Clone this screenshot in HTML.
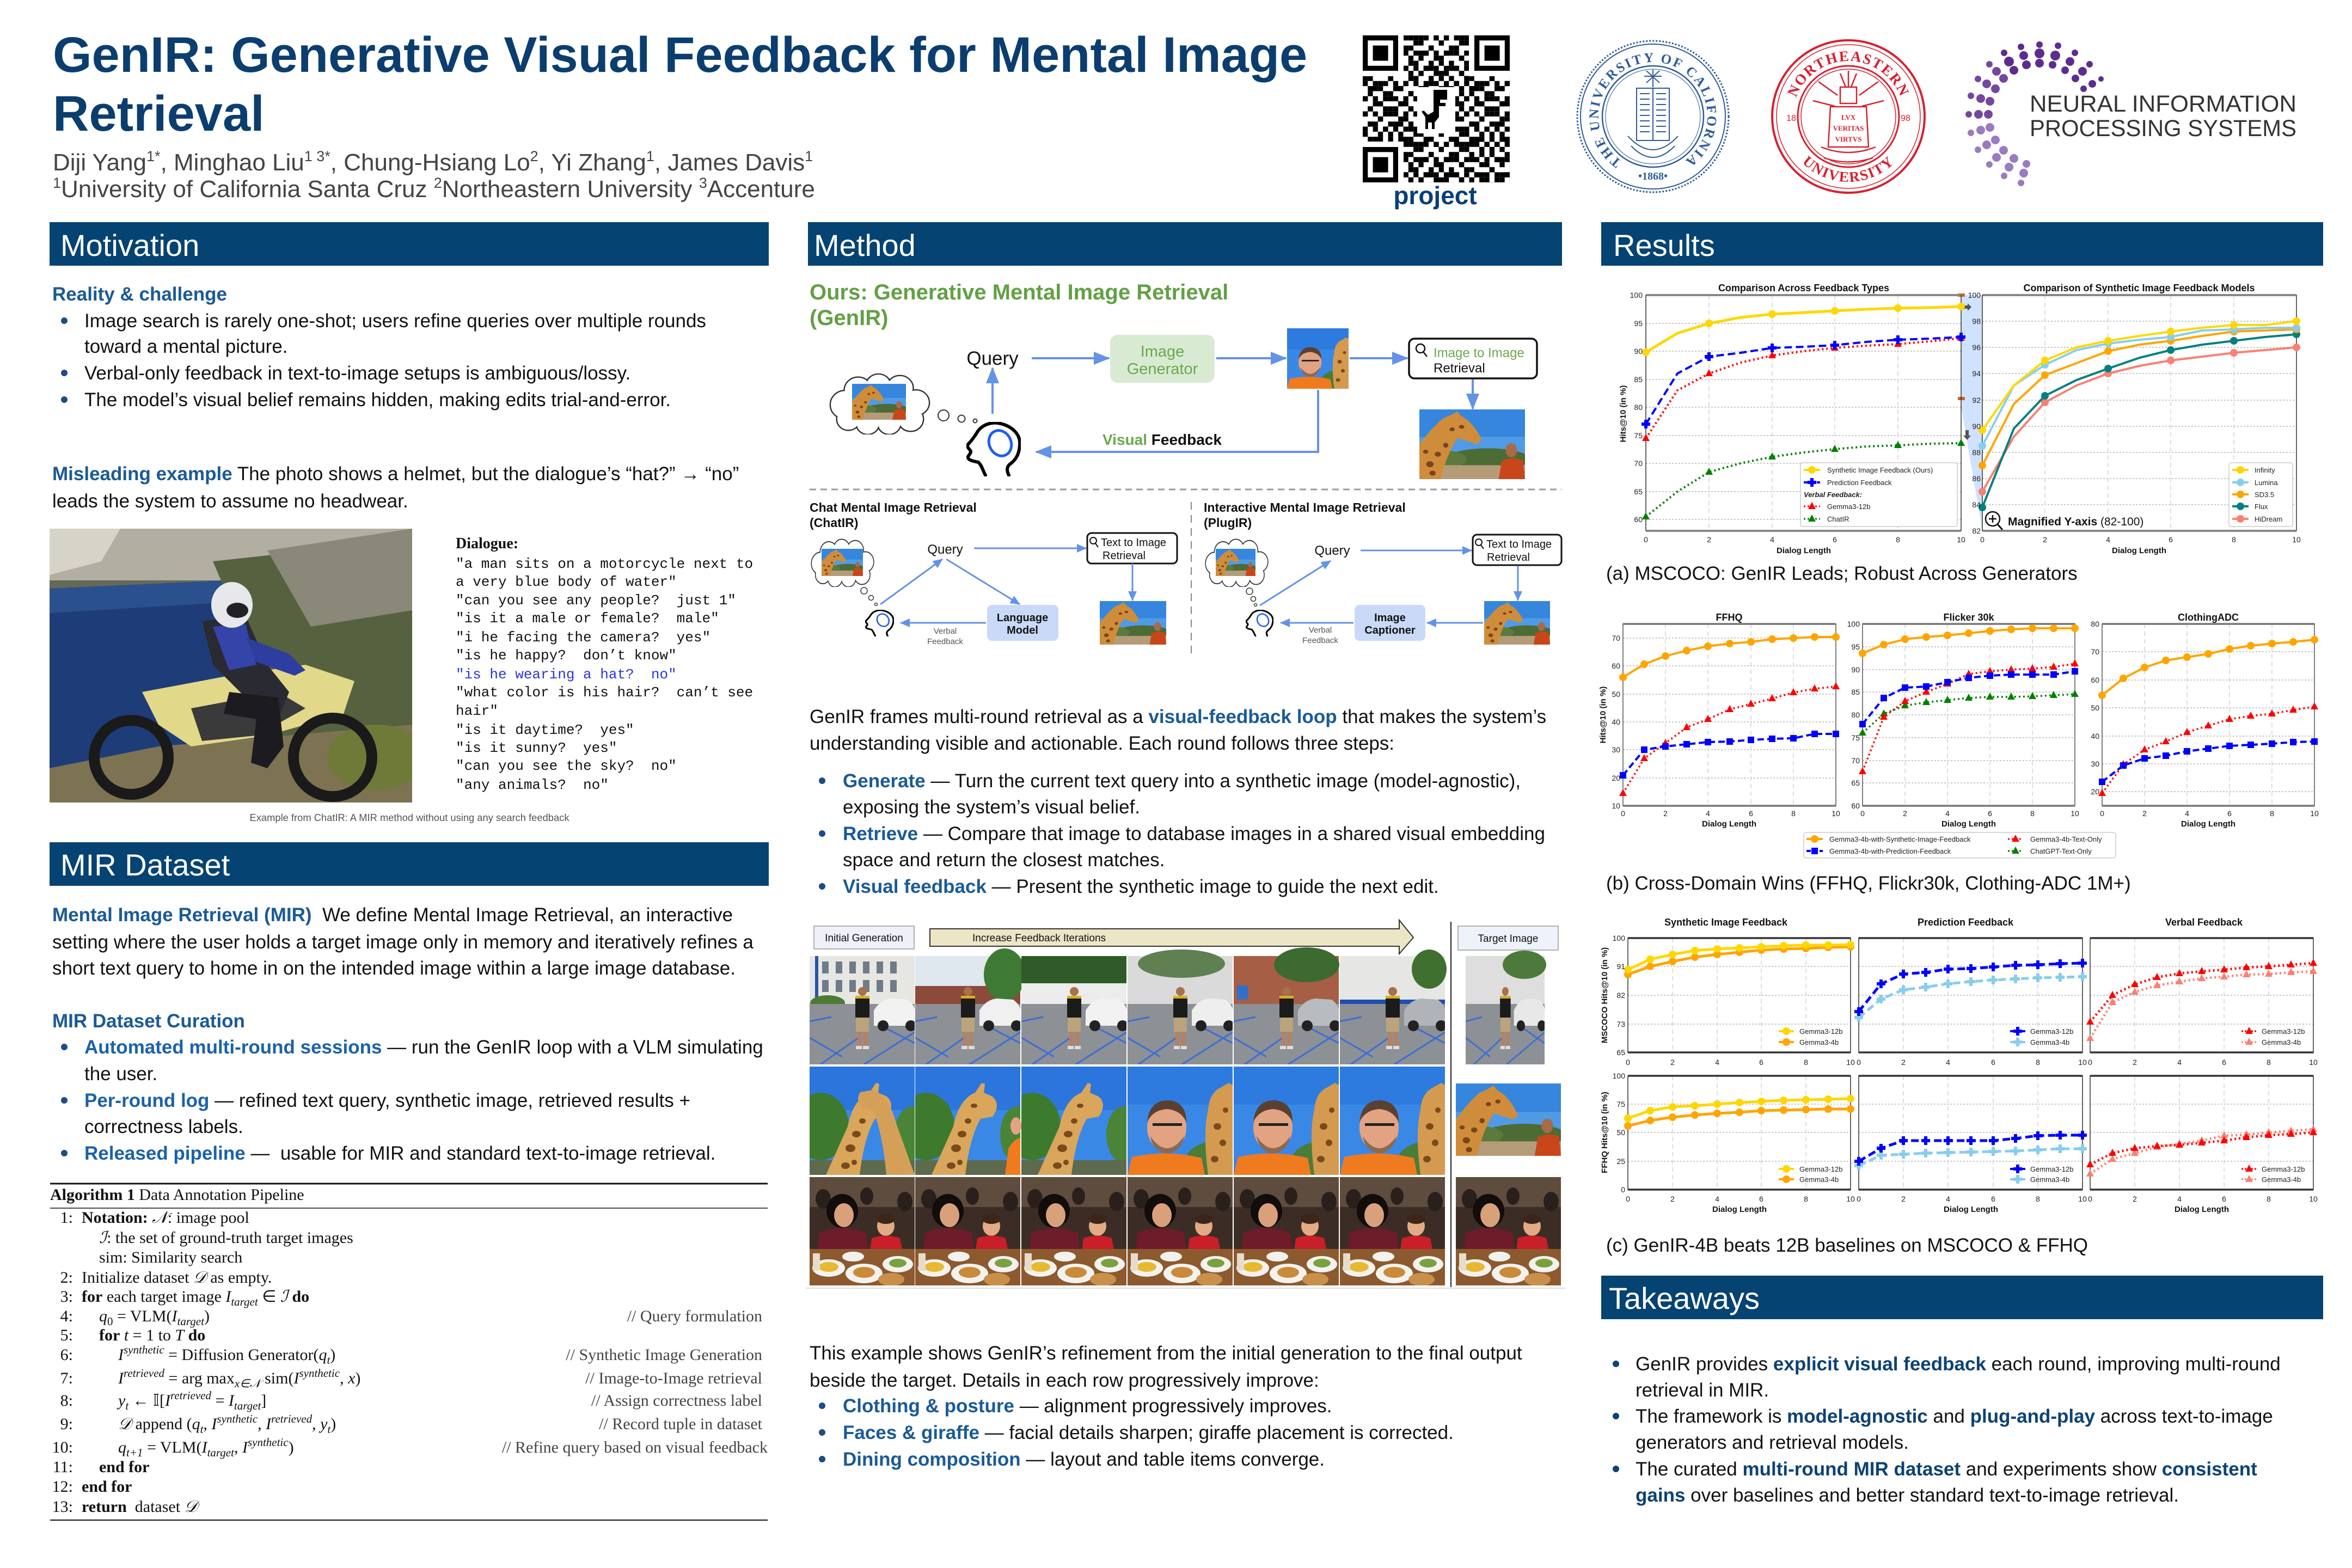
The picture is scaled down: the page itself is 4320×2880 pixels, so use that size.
<!DOCTYPE html>
<html><head><meta charset="utf-8"><title>GenIR Poster</title>
<style>
html,body{margin:0;padding:0;background:#fff;}
body{width:4320px;height:2880px;overflow:hidden;}
svg{display:block;}
.ln{fill:none;stroke-linejoin:round;stroke-linecap:butt;}
.gh{stroke:#b5b5b5;stroke-width:1.5;stroke-dasharray:3 3;fill:none;}
.gv{stroke:#d3d3d3;stroke-width:1.5;stroke-dasharray:8 6;fill:none;}
.tk{font-size:14px;fill:#222;}
.ct{font-size:18px;font-weight:bold;fill:#111;}
.xl{font-size:15px;font-weight:bold;fill:#111;}
.lg{font-size:13px;fill:#222;}
</style></head>
<body>
<svg xmlns="http://www.w3.org/2000/svg" width="4320" height="2880" viewBox="0 0 4320 2880" font-family="'Liberation Sans', Arial, sans-serif">
<defs>
 <marker id="ahB" markerUnits="userSpaceOnUse" markerWidth="30" markerHeight="24" refX="28" refY="12" orient="auto" viewBox="0 0 30 24"><path d="M0,0 L30,12 L0,24 Z" fill="#6393e6"/></marker>
 <marker id="ahS" markerUnits="userSpaceOnUse" markerWidth="18" markerHeight="16" refX="17" refY="8" orient="auto" viewBox="0 0 18 16"><path d="M0,0 L18,8 L0,16 Z" fill="#6393e6"/></marker>
 <marker id="mGold" markerUnits="userSpaceOnUse" markerWidth="16" markerHeight="16" refX="8" refY="8" viewBox="0 0 16 16"><circle cx="8" cy="8" r="7" fill="#ffd700"/></marker>
 <marker id="mOr" markerUnits="userSpaceOnUse" markerWidth="16" markerHeight="16" refX="8" refY="8" viewBox="0 0 16 16"><circle cx="8" cy="8" r="7" fill="#ffa500"/></marker>
 <marker id="mSky" markerUnits="userSpaceOnUse" markerWidth="16" markerHeight="16" refX="8" refY="8" viewBox="0 0 16 16"><circle cx="8" cy="8" r="7" fill="#87ceeb"/></marker>
 <marker id="mTeal" markerUnits="userSpaceOnUse" markerWidth="16" markerHeight="16" refX="8" refY="8" viewBox="0 0 16 16"><circle cx="8" cy="8" r="7" fill="#008080"/></marker>
 <marker id="mSal" markerUnits="userSpaceOnUse" markerWidth="16" markerHeight="16" refX="8" refY="8" viewBox="0 0 16 16"><circle cx="8" cy="8" r="7" fill="#fa8072"/></marker>
 <marker id="mPlusB" markerUnits="userSpaceOnUse" markerWidth="16" markerHeight="16" refX="8" refY="8" viewBox="0 0 16 16"><path d="M5,0 H11 V5 H16 V11 H11 V16 H5 V11 H0 V5 H5 Z" fill="#0000ff"/></marker>
 <marker id="mPlusS" markerUnits="userSpaceOnUse" markerWidth="16" markerHeight="16" refX="8" refY="8" viewBox="0 0 16 16"><path d="M5,0 H11 V5 H16 V11 H11 V16 H5 V11 H0 V5 H5 Z" fill="#87ceeb"/></marker>
 <marker id="mSqB" markerUnits="userSpaceOnUse" markerWidth="14" markerHeight="14" refX="7" refY="7" viewBox="0 0 14 14"><rect x="1" y="1" width="12" height="12" fill="#0000ff"/></marker>
 <marker id="mTriR" markerUnits="userSpaceOnUse" markerWidth="14" markerHeight="14" refX="7" refY="8" viewBox="0 0 14 14"><path d="M7,0 L14,13 L0,13 Z" fill="#ff0000"/></marker>
 <marker id="mTriG" markerUnits="userSpaceOnUse" markerWidth="14" markerHeight="14" refX="7" refY="8" viewBox="0 0 14 14"><path d="M7,0 L14,13 L0,13 Z" fill="#008000"/></marker>
 <marker id="mTriS" markerUnits="userSpaceOnUse" markerWidth="14" markerHeight="14" refX="7" refY="8" viewBox="0 0 14 14"><path d="M7,0 L14,13 L0,13 Z" fill="#fa8072"/></marker>

 <pattern id="qpA" patternUnits="userSpaceOnUse" x="0" y="0" width="37.24" height="27.93"><rect x="0" y="0" width="9.31" height="9.31"/><rect x="18.62" y="0" width="9.31" height="9.31"/><rect x="27.93" y="9.31" width="9.31" height="9.31"/><rect x="9.31" y="18.62" width="9.31" height="9.31"/></pattern>
 <pattern id="qpB" patternUnits="userSpaceOnUse" x="0" y="0" width="46.55" height="65.17"><rect x="9.31" y="0" width="9.31" height="9.31"/><rect x="37.24" y="0" width="9.31" height="9.31"/><rect x="0" y="9.31" width="9.31" height="9.31"/><rect x="27.93" y="18.62" width="9.31" height="9.31"/><rect x="9.31" y="27.93" width="18.62" height="9.31"/><rect x="37.24" y="37.24" width="9.31" height="9.31"/><rect x="0" y="46.55" width="9.31" height="9.31"/><rect x="18.62" y="55.86" width="18.62" height="9.31"/></pattern>

 <symbol id="head" viewBox="0 0 100 100" preserveAspectRatio="none">
  <path d="M35,98 C30,88 28,80 22,74 C12,72 2,70 3,64 C6,58 10,56 7,52 C3,48 0,44 4,40 C10,34 14,28 18,22 C26,6 44,0 58,2 C82,6 100,22 98,42 C97,58 92,68 82,76 C76,80 72,86 78,98" fill="none" stroke="#000" stroke-width="6" stroke-linecap="round" stroke-linejoin="round"/>
  <ellipse cx="62" cy="39" rx="20" ry="24" transform="rotate(-25 62 39)" fill="none" stroke="#1f5ff0" stroke-width="5"/>
 </symbol>
 <symbol id="cloud" viewBox="0 0 200 120" preserveAspectRatio="none">
  <g fill="#fff" stroke="#333" stroke-width="2.5"><circle cx="38" cy="62" r="28"/><circle cx="62" cy="34" r="26"/><circle cx="100" cy="26" r="24"/><circle cx="140" cy="30" r="25"/><circle cx="170" cy="58" r="25"/><circle cx="160" cy="90" r="24"/><circle cx="120" cy="98" r="22"/><circle cx="80" cy="98" r="22"/><circle cx="44" cy="90" r="22"/></g>
  <g fill="#fff"><circle cx="38" cy="62" r="26.5"/><circle cx="62" cy="34" r="24.5"/><circle cx="100" cy="26" r="22.5"/><circle cx="140" cy="30" r="23.5"/><circle cx="170" cy="58" r="23.5"/><circle cx="160" cy="90" r="22.5"/><circle cx="120" cy="98" r="20.5"/><circle cx="80" cy="98" r="20.5"/><circle cx="44" cy="90" r="20.5"/><rect x="50" y="40" width="110" height="60"/></g>
 </symbol>
 <symbol id="gA" viewBox="0 0 200 140" preserveAspectRatio="none">
  <rect width="200" height="140" fill="#4f9be6"/>
  <rect width="200" height="55" fill="#3586dc"/>
  <ellipse cx="130" cy="100" rx="80" ry="22" fill="#4d6b34"/>
  <ellipse cx="40" cy="100" rx="50" ry="18" fill="#5c7a3c"/>
  <rect y="112" width="200" height="28" fill="#b59c78"/>
  <path d="M0,140 L0,70 Q25,35 45,18 L62,10 L72,4 L78,12 L92,22 Q110,40 118,62 L108,70 Q88,62 72,58 Q52,90 40,140 Z" fill="#cf8d3c"/>
  <g fill="#7a4518"><ellipse cx="20" cy="110" rx="7" ry="6"/><ellipse cx="35" cy="90" rx="6" ry="5"/><ellipse cx="50" cy="72" rx="5" ry="5"/><ellipse cx="12" cy="85" rx="5" ry="4"/><ellipse cx="62" cy="40" rx="5" ry="4"/><ellipse cx="80" cy="35" rx="5" ry="4"/><ellipse cx="25" cy="128" rx="6" ry="5"/></g>
  <ellipse cx="174" cy="82" rx="11" ry="14" fill="#a86a48"/>
  <path d="M150,140 L156,104 Q175,94 196,102 L200,140 Z" fill="#c8461a"/>
 </symbol>
 <symbol id="gB" viewBox="0 0 193 199" preserveAspectRatio="none">
  <rect width="193" height="199" fill="#3a88e6"/>
  <rect width="193" height="70" fill="#2d7bde"/>
  <ellipse cx="165" cy="175" rx="60" ry="38" fill="#4a7c3a"/>
  <path d="M193,199 L148,199 Q138,120 148,80 Q150,48 172,38 L186,30 L193,34 Z" fill="#d49a50"/>
  <g fill="#7b4a1c"><ellipse cx="165" cy="110" rx="7" ry="6"/><ellipse cx="175" cy="140" rx="6" ry="6"/><ellipse cx="160" cy="170" rx="7" ry="6"/><ellipse cx="180" cy="80" rx="5" ry="5"/></g>
  <ellipse cx="72" cy="112" rx="36" ry="44" fill="#e2a382"/>
  <path d="M36,102 Q40,62 74,62 Q108,64 108,102 Q98,80 72,78 Q46,80 36,102Z" fill="#5a4030"/>
  <rect x="46" y="104" width="54" height="5" fill="#222"/>
  <path d="M42,128 Q72,172 104,128 Q100,155 72,160 Q46,155 42,128Z" fill="#8a6a50"/>
  <path d="M0,199 L8,166 Q72,152 136,168 L142,199Z" fill="#f07a1e"/>
 </symbol>
 <symbol id="g2a" viewBox="0 0 193 199" preserveAspectRatio="none">
  <rect width="193" height="199" fill="#3a88e6"/>
  <rect width="193" height="80" fill="#2b75dc"/>
  <ellipse cx="20" cy="110" rx="52" ry="62" fill="#3d7a2e"/>
  <ellipse cx="188" cy="125" rx="32" ry="52" fill="#4a8436"/>
  <rect y="172" width="193" height="27" fill="#5d6a4c"/>
  <path d="M30,199 L70,110 Q80,60 110,48 L122,30 L128,32 L126,48 L142,55 Q158,70 142,92 L120,96 Q100,130 92,199 Z" fill="#d9a65c"/>
  <g fill="#7b4a1c"><ellipse cx="75" cy="150" rx="9" ry="7"/><ellipse cx="86" cy="124" rx="8" ry="6"/><ellipse cx="97" cy="100" rx="6" ry="5"/><ellipse cx="66" cy="182" rx="8" ry="6"/><ellipse cx="108" cy="72" rx="6" ry="4"/><ellipse cx="82" cy="176" rx="5" ry="5"/></g>
 </symbol>
 <symbol id="din" viewBox="0 0 193 199" preserveAspectRatio="none">
  <rect width="193" height="199" fill="#3b2d25"/>
  <rect width="193" height="55" fill="#5e4c3e"/>
  <g fill="#2a201b"><ellipse cx="25" cy="40" rx="14" ry="18"/><ellipse cx="105" cy="35" rx="12" ry="16"/><ellipse cx="175" cy="45" rx="14" ry="18"/></g>
  <ellipse cx="60" cy="62" rx="29" ry="31" fill="#120c0a"/>
  <ellipse cx="63" cy="70" rx="18" ry="22" fill="#d9a07c"/>
  <path d="M18,102 Q60,86 104,102 L108,142 L14,142Z" fill="#6e1b2a"/>
  <ellipse cx="140" cy="90" rx="16" ry="18" fill="#e2ab86"/>
  <ellipse cx="140" cy="77" rx="17" ry="9" fill="#3b2619"/>
  <path d="M114,112 Q140,103 166,112 L172,142 L110,142Z" fill="#c81f28"/>
  <rect y="132" width="193" height="67" fill="#8c5a2e"/>
  <g fill="#f4f2ee"><ellipse cx="35" cy="167" rx="30" ry="16"/><ellipse cx="100" cy="177" rx="34" ry="18"/><ellipse cx="162" cy="160" rx="28" ry="15"/><ellipse cx="80" cy="146" rx="20" ry="9"/></g>
  <ellipse cx="35" cy="165" rx="18" ry="9" fill="#e8b830"/>
  <ellipse cx="100" cy="175" rx="20" ry="10" fill="#c98a3a"/>
  <ellipse cx="162" cy="158" rx="16" ry="8" fill="#7aa040"/>
  <ellipse cx="150" cy="188" rx="24" ry="12" fill="#c8904a"/>
  <rect x="6" y="140" width="13" height="32" fill="#e6dccb"/>
 </symbol>
 <symbol id="lot" viewBox="0 0 193 199" preserveAspectRatio="none">
  <rect y="88" width="193" height="111" fill="#8d9095"/>
  <path d="M0,150 L60,185 M20,199 L90,150 M120,122 L193,160 M100,199 L193,140 M0,120 L40,112" stroke="#3b6fd4" stroke-width="3" fill="none"/>
  <path d="M118,100 Q130,80 150,78 L180,80 Q193,90 193,100 L193,128 L118,128 Z" fill="currentColor"/>
  <circle cx="135" cy="128" r="10" fill="#222"/><circle cx="186" cy="128" r="10" fill="#222"/>
  <circle cx="97" cy="65" r="8" fill="#a8704c"/>
  <rect x="84" y="73" width="26" height="42" rx="4" fill="#1b1b1b"/>
  <rect x="84" y="73" width="26" height="5" fill="#d8b020"/>
  <rect x="85" y="113" width="24" height="26" fill="#b9a47c"/>
  <rect x="88" y="139" width="7" height="28" fill="#b88060"/><rect x="99" y="139" width="7" height="28" fill="#b88060"/>
  <rect x="85" y="165" width="11" height="6" fill="#ddd"/><rect x="98" y="165" width="11" height="6" fill="#ddd"/>
 </symbol>
 <symbol id="moto" viewBox="0 0 666 503" preserveAspectRatio="none">
  <rect width="666" height="503" fill="#656a58"/>
  <rect width="666" height="95" fill="#b2afa2"/>
  <polygon points="0,0 130,0 95,60 0,85" fill="#d6d3c8"/>
  <polygon points="0,110 330,95 360,200 300,470 0,470" fill="#1e3d78"/>
  <polygon points="0,110 330,95 330,135 0,155" fill="#2b508e"/>
  <polygon points="300,60 666,20 666,380 420,420 360,200" fill="#56613f"/>
  <polygon points="400,40 666,0 666,150 480,180" fill="#8a8878"/>
  <polygon points="0,440 200,400 666,360 666,503 0,503" fill="#7d7352"/>
  <ellipse cx="600" cy="420" rx="90" ry="60" fill="#6f7a38"/>
  <polygon points="170,300 330,270 470,250 560,280 540,340 400,380 260,400 200,360" fill="#e2d88a"/>
  <polygon points="260,330 420,300 470,330 380,380 280,390" fill="#3a3a3a"/>
  <circle cx="150" cy="420" r="68" fill="none" stroke="#1a1a1a" stroke-width="20"/>
  <circle cx="520" cy="420" r="72" fill="none" stroke="#1a1a1a" stroke-width="20"/>
  <polygon points="280,170 360,160 400,250 440,300 420,350 380,330 330,280 300,250" fill="#2a2a33"/>
  <polygon points="330,300 420,310 430,400 400,440 370,430 380,350 320,340" fill="#1c1c20"/>
  <polygon points="300,180 360,175 380,250 330,260" fill="#3444a8"/>
  <polygon points="360,200 440,230 470,260 450,270 380,245" fill="#2e3e9e"/>
  <ellipse cx="335" cy="140" rx="38" ry="42" fill="#e8e8ec"/>
  <ellipse cx="345" cy="150" rx="20" ry="14" fill="#222"/>
 </symbol>
 <path id="ucTop" d="M3036,314 A100,100 0 1,1 3036,114 A100,100 0 1,1 3036,314" fill="none"/>
 <path id="neTop" d="M3395,316 A102,102 0 1,1 3395,112 A102,102 0 1,1 3395,316" fill="none"/>
 <path id="neBot" d="M3275,214 A120,120 0 0,0 3515,214" fill="none"/>
</defs>

<rect width="4320" height="2880" fill="#fff"/>

<!-- ===== HEADER ===== -->
<text x="97" y="132" font-size="92" font-weight="bold" fill="#0b3e6f">GenIR: Generative Visual Feedback for Mental Image</text>
<text x="97" y="240" font-size="92" font-weight="bold" fill="#0b3e6f">Retrieval</text>
<text x="97" y="313" font-size="44" fill="#444">Diji Yang<tspan font-size="27" dy="-17">1*</tspan><tspan dy="17">, Minghao Liu</tspan><tspan font-size="27" dy="-17">1 3*</tspan><tspan dy="17">, Chung-Hsiang Lo</tspan><tspan font-size="27" dy="-17">2</tspan><tspan dy="17">, Yi Zhang</tspan><tspan font-size="27" dy="-17">1</tspan><tspan dy="17">, James Davis</tspan><tspan font-size="27" dy="-17">1</tspan></text>
<text x="97" y="362" font-size="44" fill="#444"><tspan font-size="27" dy="-17">1</tspan><tspan dy="17">University of California Santa Cruz&#160;</tspan><tspan font-size="27" dy="-17">2</tspan><tspan dy="17">Northeastern University </tspan><tspan font-size="27" dy="-17">3</tspan><tspan dy="17">Accenture</tspan></text>

<!-- QR -->
<g transform="translate(2503,65)">
 <rect x="0" y="0" width="270" height="270" fill="url(#qpA)"/>
 <rect x="0" y="0" width="270" height="270" fill="url(#qpB)"/>
 <rect x="0" y="0" width="75" height="75" fill="#fff"/><rect x="195" y="0" width="75" height="75" fill="#fff"/><rect x="0" y="195" width="75" height="75" fill="#fff"/>
 <rect x="0" y="0" width="65" height="65" fill="#000"/><rect x="9.3" y="9.3" width="46.5" height="46.5" fill="#fff"/><rect x="18.6" y="18.6" width="28" height="28" fill="#000"/>
 <rect x="205" y="0" width="65" height="65" fill="#000"/><rect x="214.3" y="9.3" width="46.5" height="46.5" fill="#fff"/><rect x="223.6" y="18.6" width="28" height="28" fill="#000"/>
 <rect x="0" y="205" width="65" height="65" fill="#000"/><rect x="9.3" y="214.3" width="46.5" height="46.5" fill="#fff"/><rect x="18.6" y="223.6" width="28" height="28" fill="#000"/>
 <rect x="100" y="95" width="70" height="85" fill="#fff"/>
 <path d="M130,100 L155,100 L155,118 L142,118 L142,124 L152,124 L152,130 L140,130 L140,150 L132,160 L132,172 L127,172 L127,160 L120,160 L120,172 L115,172 L115,150 L108,140 L112,138 L120,146 L130,140 Z" fill="#000"/>
</g>
<text x="2636" y="375" font-size="46" font-weight="bold" fill="#0b3e7a" text-anchor="middle">project</text>

<!-- UCSC seal -->
<g transform="translate(3036,214)" fill="none" stroke="#2e5c99">
 <circle r="139" stroke-width="3" stroke-dasharray="3 3"/>
 <circle r="133" stroke-width="2"/>
 <circle r="93" stroke-width="2.5"/>
 <circle r="87" stroke-width="1"/>
</g>
<text font-size="25" font-weight="bold" fill="#2e5c99" font-family="'Liberation Serif', serif" letter-spacing="3"><textPath href="#ucTop" startOffset="50%" text-anchor="middle">THE UNIVERSITY OF CALIFORNIA</textPath></text>
<text x="3036" y="330" text-anchor="middle" font-size="20" font-weight="bold" fill="#2e5c99" font-family="'Liberation Serif', serif">•1868•</text>
<g stroke="#2e5c99" stroke-width="2" fill="none">
 <path d="M3036,128 L3036,160 M3020,140 L3052,140 M3024,130 L3048,152 M3048,130 L3024,152"/>
 <rect x="3006" y="162" width="60" height="96"/>
 <path d="M3036,162 L3036,258 M3012,172 H3030 M3012,182 H3030 M3012,192 H3030 M3012,202 H3030 M3012,212 H3030 M3012,222 H3030 M3012,232 H3030 M3012,242 H3030 M3042,172 H3060 M3042,182 H3060 M3042,192 H3060 M3042,202 H3060 M3042,212 H3060 M3042,222 H3060 M3042,232 H3060 M3042,242 H3060"/>
 <path d="M2990,250 Q3036,300 3082,250 M2996,268 Q3036,310 3076,268"/>
</g>

<!-- Northeastern seal -->
<g transform="translate(3395,214)" fill="none" stroke="#d7202f">
 <circle r="140" stroke-width="4"/>
 <circle r="132" stroke-width="1.5"/>
 <circle r="93" stroke-width="3"/>
 <circle r="87" stroke-width="1.5"/>
</g>
<text font-size="27" font-weight="bold" fill="#d7202f" font-family="'Liberation Serif', serif" letter-spacing="2"><textPath href="#neTop" startOffset="50%" text-anchor="middle">NORTHEASTERN</textPath></text>
<text font-size="27" font-weight="bold" fill="#d7202f" font-family="'Liberation Serif', serif" letter-spacing="2"><textPath href="#neBot" startOffset="50%" text-anchor="middle">UNIVERSITY</textPath></text>
<text x="3290" y="222" font-size="16" fill="#d7202f" text-anchor="middle">18</text>
<text x="3500" y="222" font-size="16" fill="#d7202f" text-anchor="middle">98</text>
<g stroke="#d7202f" fill="none" stroke-width="2.5">
 <path d="M3395,130 L3395,160 M3380,135 L3390,160 M3410,135 L3400,160 M3340,150 L3375,175 M3450,150 L3415,175 M3330,185 L3370,195 M3460,185 L3420,195"/>
 <rect x="3380" y="160" width="30" height="30"/>
 <path d="M3362,196 L3428,196 L3432,270 L3358,270 Z"/>
 <path d="M3345,270 Q3395,290 3445,270 M3350,290 Q3395,305 3440,290"/>
</g>
<g font-size="13" font-weight="bold" fill="#d7202f" text-anchor="middle" font-family="'Liberation Serif', serif"><text x="3395" y="220">LVX</text><text x="3395" y="240">VERITAS</text><text x="3395" y="260">VIRTVS</text></g>

<!-- NeurIPS -->
<g>
 <g fill="#5c2d8e">
  <circle cx="3827" cy="163" r="6"/><circle cx="3843" cy="154" r="7"/><circle cx="3859" cy="145" r="5"/>
  <circle cx="3812" cy="144" r="7"/><circle cx="3825" cy="131" r="8"/><circle cx="3838" cy="118" r="6"/>
  <circle cx="3793" cy="129" r="7"/><circle cx="3802" cy="113" r="8"/><circle cx="3811" cy="97" r="6"/>
  <circle cx="3770" cy="119" r="7"/><circle cx="3775" cy="102" r="9"/><circle cx="3780" cy="84" r="6"/>
  <circle cx="3746" cy="116" r="8"/><circle cx="3746" cy="98" r="9"/><circle cx="3746" cy="82" r="6"/>
  <circle cx="3722" cy="119" r="8"/><circle cx="3717" cy="102" r="8"/><circle cx="3712" cy="86" r="6"/>
  <circle cx="3699" cy="129" r="8"/><circle cx="3690" cy="113" r="9"/><circle cx="3681" cy="97" r="6"/>
 </g>
 <g fill="#74479f">
  <circle cx="3680" cy="144" r="8"/><circle cx="3667" cy="131" r="8"/><circle cx="3654" cy="118" r="6"/>
  <circle cx="3665" cy="163" r="8"/><circle cx="3649" cy="154" r="8"/><circle cx="3633" cy="145" r="6"/>
  <circle cx="3655" cy="186" r="8"/><circle cx="3638" cy="181" r="8"/><circle cx="3620" cy="176" r="6"/>
  <circle cx="3652" cy="210" r="8"/><circle cx="3634" cy="210" r="8"/><circle cx="3616" cy="210" r="6"/>
 </g>
 <g fill="#9b7bbf">
  <circle cx="3655" cy="234" r="8"/><circle cx="3638" cy="239" r="8"/><circle cx="3620" cy="244" r="6"/>
  <circle cx="3665" cy="257" r="8"/><circle cx="3649" cy="266" r="8"/><circle cx="3633" cy="275" r="6"/>
  <circle cx="3680" cy="276" r="8"/><circle cx="3667" cy="289" r="8"/><circle cx="3654" cy="302" r="6"/>
  <circle cx="3699" cy="291" r="8"/><circle cx="3690" cy="307" r="8"/><circle cx="3681" cy="323" r="6"/>
  <circle cx="3722" cy="301" r="7"/><circle cx="3717" cy="318" r="8"/><circle cx="3712" cy="336" r="6"/>
 </g>
</g>
<text x="3728" y="205" font-size="43" fill="#333" textLength="490" lengthAdjust="spacingAndGlyphs">NEURAL INFORMATION</text>
<text x="3728" y="250" font-size="43" fill="#333" textLength="490" lengthAdjust="spacingAndGlyphs">PROCESSING SYSTEMS</text>

<!-- ===== SECTION BARS ===== -->
<rect x="91" y="408" width="1321" height="80" fill="#054372"/>
<text x="111" y="470" font-size="56" fill="#fff">Motivation</text>
<rect x="1484" y="408" width="1385" height="80" fill="#054372"/>
<text x="1495" y="470" font-size="56" fill="#fff">Method</text>
<rect x="2941" y="408" width="1326" height="80" fill="#054372"/>
<text x="2963" y="470" font-size="56" fill="#fff">Results</text>
<rect x="91" y="1547" width="1321" height="80" fill="#054372"/>
<text x="111" y="1608" font-size="56" fill="#fff">MIR Dataset</text>
<rect x="2941" y="2343" width="1326" height="80" fill="#054372"/>
<text x="2955" y="2404" font-size="56" fill="#fff">Takeaways</text>

<!-- ===== MOTIVATION ===== -->
<g font-size="35" fill="#111">
 <text x="96" y="552" font-weight="bold" fill="#1b5a96">Reality &amp; challenge</text>
 <text x="155" y="601">Image search is rarely one-shot; users refine queries over multiple rounds</text>
 <text x="155" y="648">toward a mental picture.</text>
 <text x="155" y="697">Verbal-only feedback in text-to-image setups is ambiguous/lossy.</text>
 <text x="155" y="746">The model’s visual belief remains hidden, making edits trial-and-error.</text>
 <text x="96" y="882"><tspan font-weight="bold" fill="#1b5a96">Misleading example</tspan> The photo shows a helmet, but the dialogue’s “hat?” → “no”</text>
 <text x="96" y="932">leads the system to assume no headwear.</text>
</g>
<g fill="#1b4c86"><circle cx="118" cy="589" r="6"/><circle cx="118" cy="685" r="6"/><circle cx="118" cy="734" r="6"/></g>
<use href="#moto" x="91" y="971" width="666" height="503"/>
<text x="837" y="1007" font-size="28" font-weight="bold" font-family="'Liberation Serif', serif" fill="#111">Dialogue:</text>
<g font-size="26" font-family="'Liberation Mono', 'Courier New', monospace" fill="#111">
 <text x="837" y="1043">"a man sits on a motorcycle next to</text>
 <text x="837" y="1076">a very blue body of water"</text>
 <text x="837" y="1110">"can you see any people?&#160;&#160;just 1"</text>
 <text x="837" y="1143">"is it a male or female?&#160;&#160;male"</text>
 <text x="837" y="1178">"i he facing the camera?&#160;&#160;yes"</text>
 <text x="837" y="1211">"is he happy?&#160;&#160;don’t know"</text>
 <text x="837" y="1246" fill="#2a35e0">"is he wearing a hat?&#160;&#160;no"</text>
 <text x="837" y="1279">"what color is his hair?&#160;&#160;can’t see</text>
 <text x="837" y="1313">hair"</text>
 <text x="837" y="1348">"is it daytime?&#160;&#160;yes"</text>
 <text x="837" y="1381">"is it sunny?&#160;&#160;yes"</text>
 <text x="837" y="1414">"can you see the sky?&#160;&#160;no"</text>
 <text x="837" y="1449">"any animals?&#160;&#160;no"</text>
</g>
<text x="752" y="1508" font-size="18" fill="#555" text-anchor="middle" textLength="587" lengthAdjust="spacingAndGlyphs">Example from ChatIR: A MIR method without using any search feedback</text>

<!-- ===== MIR DATASET ===== -->
<g font-size="35" fill="#111">
 <text x="96" y="1692"><tspan font-weight="bold" fill="#1b5a96">Mental Image Retrieval (MIR)</tspan>&#160; We define Mental Image Retrieval, an interactive</text>
 <text x="96" y="1742">setting where the user holds a target image only in memory and iteratively refines a</text>
 <text x="96" y="1790">short text query to home in on the intended image within a large image database.</text>
 <text x="96" y="1887" font-weight="bold" fill="#1b5a96">MIR Dataset Curation</text>
 <text x="155" y="1935"><tspan font-weight="bold" fill="#1b62a8">Automated multi-round sessions</tspan> — run the GenIR loop with a VLM simulating</text>
 <text x="155" y="1984">the user.</text>
 <text x="155" y="2033"><tspan font-weight="bold" fill="#1b62a8">Per-round log</tspan> — refined text query, synthetic image, retrieved results +</text>
 <text x="155" y="2081">correctness labels.</text>
 <text x="155" y="2130"><tspan font-weight="bold" fill="#1b62a8">Released pipeline</tspan> —&#160; usable for MIR and standard text-to-image retrieval.</text>
</g>
<g fill="#1b4c86"><circle cx="118" cy="1923" r="6"/><circle cx="118" cy="2021" r="6"/><circle cx="118" cy="2118" r="6"/></g>

<!-- Algorithm -->
<line x1="92" y1="2174" x2="1410" y2="2174" stroke="#111" stroke-width="3"/>
<line x1="92" y1="2219" x2="1410" y2="2219" stroke="#111" stroke-width="1.5"/>
<line x1="92" y1="2792" x2="1410" y2="2792" stroke="#111" stroke-width="2"/>
<g font-family="'Liberation Serif', 'Times New Roman', serif" font-size="30" fill="#111">
 <text x="92" y="2204"><tspan font-weight="bold">Algorithm 1</tspan> Data Annotation Pipeline</text>
 <g text-anchor="end"><text x="134" y="2246">1:</text><text x="134" y="2356">2:</text><text x="134" y="2391">3:</text><text x="134" y="2427">4:</text><text x="134" y="2462">5:</text><text x="134" y="2498">6:</text><text x="134" y="2541">7:</text><text x="134" y="2582">8:</text><text x="134" y="2625">9:</text><text x="134" y="2668">10:</text><text x="134" y="2704">11:</text><text x="134" y="2740">12:</text><text x="134" y="2777">13:</text></g>
 <text x="150" y="2246"><tspan font-weight="bold">Notation:</tspan> <tspan font-style="italic">𝒩</tspan>: image pool</text>
 <text x="182" y="2283"><tspan font-style="italic">ℐ</tspan>: the set of ground-truth target images</text>
 <text x="182" y="2319">sim: Similarity search</text>
 <text x="150" y="2356">Initialize dataset <tspan font-style="italic">𝒟</tspan> as empty.</text>
 <text x="150" y="2391"><tspan font-weight="bold">for</tspan> each target image <tspan font-style="italic">I</tspan><tspan font-style="italic" font-size="21" dy="7">target</tspan><tspan dy="-7"> ∈ </tspan><tspan font-style="italic">ℐ</tspan> <tspan font-weight="bold">do</tspan></text>
 <text x="182" y="2427"><tspan font-style="italic">q</tspan><tspan font-size="21" dy="7">0</tspan><tspan dy="-7"> = VLM(</tspan><tspan font-style="italic">I</tspan><tspan font-style="italic" font-size="21" dy="7">target</tspan><tspan dy="-7">)</tspan></text>
 <text x="182" y="2462"><tspan font-weight="bold">for</tspan> <tspan font-style="italic">t</tspan> = 1 to <tspan font-style="italic">T</tspan> <tspan font-weight="bold">do</tspan></text>
 <text x="217" y="2498"><tspan font-style="italic">I</tspan><tspan font-style="italic" font-size="21" dy="-12">synthetic</tspan><tspan dy="12"> = Diffusion Generator(</tspan><tspan font-style="italic">q</tspan><tspan font-style="italic" font-size="21" dy="7">t</tspan><tspan dy="-7">)</tspan></text>
 <text x="217" y="2541"><tspan font-style="italic">I</tspan><tspan font-style="italic" font-size="21" dy="-12">retrieved</tspan><tspan dy="12"> = arg max</tspan><tspan font-style="italic" font-size="21" dy="7">x∈𝒩</tspan><tspan dy="-7"> sim(</tspan><tspan font-style="italic">I</tspan><tspan font-style="italic" font-size="21" dy="-12">synthetic</tspan><tspan dy="12">, </tspan><tspan font-style="italic">x</tspan>)</text>
 <text x="217" y="2582"><tspan font-style="italic">y</tspan><tspan font-style="italic" font-size="21" dy="7">t</tspan><tspan dy="-7"> ← 𝕀[</tspan><tspan font-style="italic">I</tspan><tspan font-style="italic" font-size="21" dy="-12">retrieved</tspan><tspan dy="12"> = </tspan><tspan font-style="italic">I</tspan><tspan font-style="italic" font-size="21" dy="7">target</tspan><tspan dy="-7">]</tspan></text>
 <text x="217" y="2625"><tspan font-style="italic">𝒟</tspan> append (<tspan font-style="italic">q</tspan><tspan font-style="italic" font-size="21" dy="7">t</tspan><tspan dy="-7">, </tspan><tspan font-style="italic">I</tspan><tspan font-style="italic" font-size="21" dy="-12">synthetic</tspan><tspan dy="12">, </tspan><tspan font-style="italic">I</tspan><tspan font-style="italic" font-size="21" dy="-12">retrieved</tspan><tspan dy="12">, </tspan><tspan font-style="italic">y</tspan><tspan font-style="italic" font-size="21" dy="7">t</tspan><tspan dy="-7">)</tspan></text>
 <text x="217" y="2668"><tspan font-style="italic">q</tspan><tspan font-style="italic" font-size="21" dy="7">t+1</tspan><tspan dy="-7"> = VLM(</tspan><tspan font-style="italic">I</tspan><tspan font-style="italic" font-size="21" dy="7">target</tspan><tspan dy="-7">, </tspan><tspan font-style="italic">I</tspan><tspan font-style="italic" font-size="21" dy="-12">synthetic</tspan><tspan dy="12">)</tspan></text>
 <text x="182" y="2704" font-weight="bold">end for</text>
 <text x="150" y="2740" font-weight="bold">end for</text>
 <text x="150" y="2777"><tspan font-weight="bold">return</tspan>&#160; dataset <tspan font-style="italic">𝒟</tspan></text>
 <g text-anchor="end" fill="#444">
  <text x="1400" y="2427">// Query formulation</text>
  <text x="1400" y="2498">// Synthetic Image Generation</text>
  <text x="1400" y="2541">// Image-to-Image retrieval</text>
  <text x="1400" y="2582">// Assign correctness label</text>
  <text x="1400" y="2625">// Record tuple in dataset</text>
  <text x="1410" y="2668">// Refine query based on visual feedback</text>
 </g>
</g>

<!-- ===== METHOD ===== -->
<text x="1487" y="550" font-size="40" font-weight="bold" fill="#62a044">Ours: Generative Mental Image Retrieval</text>
<text x="1487" y="597" font-size="40" font-weight="bold" fill="#62a044">(GenIR)</text>

<!-- top diagram -->
<use href="#cloud" x="1515" y="685" width="197" height="113"/>
<use href="#gA" x="1565" y="705" width="99" height="66"/>
<g fill="#fff" stroke="#333" stroke-width="2"><circle cx="1733" cy="763" r="10"/><circle cx="1766" cy="769" r="6.5"/><circle cx="1791" cy="773" r="3.5"/></g>
<use href="#head" x="1775" y="775" width="100" height="100"/>
<text x="1823" y="670" font-size="35" text-anchor="middle" fill="#111">Query</text>
<line x1="1823" y1="760" x2="1823" y2="676" stroke="#6393e6" stroke-width="4" marker-end="url(#ahB)"/>
<line x1="1895" y1="658" x2="2037" y2="658" stroke="#6393e6" stroke-width="4" marker-end="url(#ahB)"/>
<rect x="2039" y="615" width="192" height="88" rx="14" fill="#d9ead3"/>
<text x="2135" y="655" font-size="29" fill="#6aa84f" text-anchor="middle">Image</text>
<text x="2135" y="687" font-size="29" fill="#6aa84f" text-anchor="middle">Generator</text>
<line x1="2234" y1="658" x2="2362" y2="658" stroke="#6393e6" stroke-width="4" marker-end="url(#ahB)"/>
<use href="#gB" x="2364" y="603" width="113" height="111"/>
<line x1="2479" y1="658" x2="2585" y2="658" stroke="#6393e6" stroke-width="4" marker-end="url(#ahB)"/>
<rect x="2588" y="622" width="235" height="73" rx="10" fill="#fff" stroke="#111" stroke-width="3.5"/>
<circle cx="2609" cy="640" r="8" fill="none" stroke="#111" stroke-width="2.5"/><line x1="2614" y1="646" x2="2621" y2="655" stroke="#111" stroke-width="2.5"/>
<text x="2633" y="656" font-size="24" fill="#6aa84f">Image to Image</text>
<text x="2633" y="684" font-size="24" fill="#111">Retrieval</text>
<line x1="2705" y1="697" x2="2705" y2="751" stroke="#6393e6" stroke-width="4" marker-end="url(#ahB)"/>
<use href="#gA" x="2607" y="752" width="194" height="128"/>
<polyline points="2421,716 2421,830 1903,830" fill="none" stroke="#6393e6" stroke-width="4" marker-end="url(#ahB)"/>
<text x="2025" y="817" font-size="28" font-weight="bold"><tspan fill="#6aa84f">Visual</tspan><tspan fill="#111"> Feedback</tspan></text>

<line x1="1487" y1="899" x2="2868" y2="899" stroke="#9a9a9a" stroke-width="3" stroke-dasharray="12 8"/>
<line x1="2188" y1="922" x2="2188" y2="1204" stroke="#888" stroke-width="2" stroke-dasharray="14 10"/>

<!-- ChatIR -->
<text x="1487" y="940" font-size="23" font-weight="bold" fill="#111">Chat Mental Image Retrieval</text>
<text x="1487" y="968" font-size="23" font-weight="bold" fill="#111">(ChatIR)</text>
<use href="#cloud" x="1484" y="989" width="124" height="89"/>
<use href="#gA" x="1509" y="1008" width="76" height="50"/>
<g fill="#fff" stroke="#333" stroke-width="1.5"><circle cx="1587" cy="1085" r="6"/><circle cx="1600" cy="1098" r="4.5"/><circle cx="1609" cy="1110" r="2.5"/></g>
<use href="#head" x="1589" y="1120" width="53" height="49"/>
<text x="1736" y="1017" font-size="24" text-anchor="middle" fill="#111">Query</text>
<line x1="1617" y1="1110" x2="1731" y2="1027" stroke="#6393e6" stroke-width="3" marker-end="url(#ahS)"/>
<line x1="1738" y1="1027" x2="1873" y2="1110" stroke="#6393e6" stroke-width="3" marker-end="url(#ahS)"/>
<line x1="1789" y1="1007" x2="1995" y2="1007" stroke="#6393e6" stroke-width="3" marker-end="url(#ahS)"/>
<rect x="1997" y="979" width="165" height="56" rx="8" fill="#fff" stroke="#111" stroke-width="3"/>
<circle cx="2008" cy="993" r="6" fill="none" stroke="#111" stroke-width="2"/><line x1="2012" y1="998" x2="2017" y2="1005" stroke="#111" stroke-width="2"/>
<text x="2022" y="1003" font-size="20" fill="#111">Text to Image</text>
<text x="2025" y="1027" font-size="20" fill="#111">Retrieval</text>
<line x1="2080" y1="1035" x2="2080" y2="1103" stroke="#6393e6" stroke-width="3" marker-end="url(#ahS)"/>
<use href="#gA" x="2020" y="1104" width="122" height="80"/>
<rect x="1813" y="1111" width="131" height="66" rx="9" fill="#c9daf8"/>
<text x="1878" y="1141" font-size="20" font-weight="bold" text-anchor="middle" fill="#111">Language</text>
<text x="1878" y="1164" font-size="20" font-weight="bold" text-anchor="middle" fill="#111">Model</text>
<line x1="1811" y1="1144" x2="1654" y2="1144" stroke="#6393e6" stroke-width="3" marker-end="url(#ahS)"/>
<text x="1736" y="1164" font-size="15" text-anchor="middle" fill="#555">Verbal</text>
<text x="1736" y="1183" font-size="15" text-anchor="middle" fill="#555">Feedback</text>

<!-- PlugIR -->
<text x="2211" y="940" font-size="23" font-weight="bold" fill="#111">Interactive Mental Image Retrieval</text>
<text x="2211" y="968" font-size="23" font-weight="bold" fill="#111">(PlugIR)</text>
<use href="#cloud" x="2208" y="989" width="124" height="89"/>
<use href="#gA" x="2233" y="1008" width="73" height="50"/>
<g fill="#fff" stroke="#333" stroke-width="1.5"><circle cx="2295" cy="1086" r="6"/><circle cx="2302" cy="1100" r="4.5"/><circle cx="2306" cy="1111" r="2.5"/></g>
<use href="#head" x="2288" y="1120" width="51" height="49"/>
<text x="2447" y="1019" font-size="24" text-anchor="middle" fill="#111">Query</text>
<line x1="2314" y1="1112" x2="2444" y2="1030" stroke="#6393e6" stroke-width="3" marker-end="url(#ahS)"/>
<line x1="2499" y1="1011" x2="2703" y2="1011" stroke="#6393e6" stroke-width="3" marker-end="url(#ahS)"/>
<rect x="2705" y="982" width="163" height="56" rx="8" fill="#fff" stroke="#111" stroke-width="3"/>
<circle cx="2716" cy="996" r="6" fill="none" stroke="#111" stroke-width="2"/><line x1="2720" y1="1001" x2="2725" y2="1008" stroke="#111" stroke-width="2"/>
<text x="2730" y="1006" font-size="20" fill="#111">Text to Image</text>
<text x="2731" y="1030" font-size="20" fill="#111">Retrieval</text>
<line x1="2788" y1="1039" x2="2788" y2="1103" stroke="#6393e6" stroke-width="3" marker-end="url(#ahS)"/>
<use href="#gA" x="2726" y="1104" width="121" height="80"/>
<line x1="2724" y1="1144" x2="2621" y2="1144" stroke="#6393e6" stroke-width="3" marker-end="url(#ahS)"/>
<rect x="2488" y="1111" width="130" height="66" rx="9" fill="#c9daf8"/>
<text x="2553" y="1141" font-size="20" font-weight="bold" text-anchor="middle" fill="#111">Image</text>
<text x="2553" y="1164" font-size="20" font-weight="bold" text-anchor="middle" fill="#111">Captioner</text>
<line x1="2486" y1="1144" x2="2352" y2="1144" stroke="#6393e6" stroke-width="3" marker-end="url(#ahS)"/>
<text x="2425" y="1162" font-size="15" text-anchor="middle" fill="#555">Verbal</text>
<text x="2425" y="1181" font-size="15" text-anchor="middle" fill="#555">Feedback</text>

<!-- method paragraph -->
<g font-size="35" fill="#111">
 <text x="1487" y="1328">GenIR frames multi-round retrieval as a <tspan font-weight="bold" fill="#1b5a96">visual-feedback loop</tspan> that makes the system’s</text>
 <text x="1487" y="1377">understanding visible and actionable. Each round follows three steps:</text>
 <text x="1548" y="1446"><tspan font-weight="bold" fill="#1b5a96">Generate</tspan> — Turn the current text query into a synthetic image (model-agnostic),</text>
 <text x="1548" y="1494">exposing the system’s visual belief.</text>
 <text x="1548" y="1543"><tspan font-weight="bold" fill="#1b5a96">Retrieve</tspan> — Compare that image to database images in a shared visual embedding</text>
 <text x="1548" y="1591">space and return the closest matches.</text>
 <text x="1548" y="1640"><tspan font-weight="bold" fill="#1b5a96">Visual feedback</tspan> — Present the synthetic image to guide the next edit.</text>
</g>
<g fill="#1b4c86"><circle cx="1510" cy="1434" r="6"/><circle cx="1510" cy="1531" r="6"/><circle cx="1510" cy="1628" r="6"/></g>

<!-- photo grid -->
<rect x="1495" y="1701" width="184" height="42" fill="#eef0fa" stroke="#999" stroke-width="1.5"/>
<text x="1587" y="1729" font-size="19" text-anchor="middle" fill="#111">Initial Generation</text>
<polygon points="1708,1706 2570,1706 2570,1690 2596,1722 2570,1752 2570,1738 1708,1738" fill="#ece6c6" stroke="#333" stroke-width="2"/>
<text x="1786" y="1729" font-size="19" fill="#111">Increase Feedback Iterations</text>
<line x1="2665" y1="1693" x2="2665" y2="2364" stroke="#222" stroke-width="2"/>
<rect x="2678" y="1701" width="184" height="44" fill="#eef2fa" stroke="#999" stroke-width="1.5"/>
<text x="2770" y="1730" font-size="19" text-anchor="middle" fill="#111">Target Image</text>

<!-- row1 -->
<rect x="1487" y="1756" width="193" height="90" fill="#e7e7e2"/>
<g fill="#6f7b88"><rect x="1510" y="1766" width="12" height="22"/><rect x="1535" y="1766" width="12" height="22"/><rect x="1560" y="1766" width="12" height="22"/><rect x="1585" y="1766" width="12" height="22"/><rect x="1610" y="1766" width="12" height="22"/><rect x="1635" y="1766" width="12" height="22"/><rect x="1510" y="1800" width="12" height="22"/><rect x="1535" y="1800" width="12" height="22"/><rect x="1560" y="1800" width="12" height="22"/><rect x="1585" y="1800" width="12" height="22"/><rect x="1610" y="1800" width="12" height="22"/><rect x="1635" y="1800" width="12" height="22"/></g>
<rect x="1497" y="1756" width="6" height="120" fill="#2756a8"/>
<ellipse cx="1520" cy="1842" rx="32" ry="14" fill="#4d7a35"/>
<use href="#lot" x="1487" y="1756" width="193" height="199" color="#f2f2f2"/>
<rect x="1681" y="1756" width="193" height="90" fill="#dfe7ef"/>
<rect x="1681" y="1811" width="193" height="35" fill="#8b4a3a"/>
<ellipse cx="1845" cy="1790" rx="38" ry="48" fill="#3f7a34"/>
<use href="#lot" x="1681" y="1756" width="193" height="199" color="#f0f0f0"/>
<rect x="1876" y="1756" width="193" height="50" fill="#2e5b27"/>
<rect x="1876" y="1806" width="193" height="40" fill="#ececec"/>
<use href="#lot" x="1876" y="1756" width="193" height="199" color="#f2f2f2"/>
<rect x="2071" y="1756" width="193" height="90" fill="#dadada"/>
<ellipse cx="2170" cy="1770" rx="80" ry="26" fill="#5f8050"/>
<use href="#lot" x="2071" y="1756" width="193" height="199" color="#eeeeee"/>
<rect x="2266" y="1756" width="193" height="90" fill="#a65e45"/>
<ellipse cx="2400" cy="1772" rx="60" ry="32" fill="#3d6a30"/>
<rect x="2272" y="1810" width="20" height="26" fill="#3070c8"/>
<use href="#lot" x="2266" y="1756" width="193" height="199" color="#b8bbc0"/>
<rect x="2461" y="1756" width="193" height="80" fill="#e6e6e4"/>
<rect x="2461" y="1836" width="193" height="10" fill="#1f4fb0"/>
<ellipse cx="2625" cy="1780" rx="32" ry="36" fill="#3f7030"/>
<use href="#lot" x="2461" y="1756" width="193" height="199" color="#b0b3b8"/>
<rect x="2692" y="1756" width="145" height="90" fill="#dedede"/>
<ellipse cx="2800" cy="1772" rx="40" ry="26" fill="#4c7a3c"/>
<use href="#lot" x="2692" y="1756" width="145" height="199" color="#e8e8e8"/>

<!-- row2 -->
<use href="#g2a" x="1487" y="1959" width="193" height="199"/>
<path d="M1680,2158 L1645,2060 Q1632,2012 1604,2002 L1580,2006 Q1570,2022 1585,2035 L1605,2040 Q1622,2090 1628,2158Z" fill="#d4a058"/>
<use href="#g2a" x="1681" y="1959" width="193" height="199"/>
<path d="M1846,2158 L1852,2110 Q1862,2092 1874,2090 L1874,2158Z" fill="#f07a1e"/>
<ellipse cx="1866" cy="2068" rx="10" ry="16" fill="#e2a382"/>
<use href="#g2a" x="1876" y="1959" width="193" height="199"/>
<use href="#gB" x="2071" y="1959" width="193" height="199"/>
<use href="#gB" x="2266" y="1959" width="193" height="199"/>
<use href="#gB" x="2461" y="1959" width="193" height="199"/>
<use href="#gA" x="2674" y="1990" width="193" height="133"/>

<!-- row3 -->
<use href="#din" x="1487" y="2162" width="193" height="199"/>
<use href="#din" x="1681" y="2162" width="193" height="199"/>
<use href="#din" x="1876" y="2162" width="193" height="199"/>
<use href="#din" x="2071" y="2162" width="193" height="199"/>
<use href="#din" x="2266" y="2162" width="193" height="199"/>
<use href="#din" x="2461" y="2162" width="193" height="199"/>
<use href="#din" x="2674" y="2162" width="193" height="199"/>
<line x1="1480" y1="2366" x2="2875" y2="2366" stroke="#dddddd" stroke-width="2"/>

<g font-size="35" fill="#111">
 <text x="1487" y="2497">This example shows GenIR’s refinement from the initial generation to the final output</text>
 <text x="1487" y="2547">beside the target. Details in each row progressively improve:</text>
 <text x="1548" y="2594"><tspan font-weight="bold" fill="#1b5a96">Clothing &amp; posture</tspan> — alignment progressively improves.</text>
 <text x="1548" y="2643"><tspan font-weight="bold" fill="#1b5a96">Faces &amp; giraffe</tspan> — facial details sharpen; giraffe placement is corrected.</text>
 <text x="1548" y="2692"><tspan font-weight="bold" fill="#1b5a96">Dining composition</tspan> — layout and table items converge.</text>
</g>
<g fill="#1b4c86"><circle cx="1510" cy="2582" r="6"/><circle cx="1510" cy="2631" r="6"/><circle cx="1510" cy="2680" r="6"/></g>

<!-- ===== RESULTS (a) ===== -->
<text x="3313" y="535" class="ct" text-anchor="middle">Comparison Across Feedback Types</text>
<text x="3929" y="535" class="ct" text-anchor="middle">Comparison of Synthetic Image Feedback Models</text>
<g>
 <path class="gh" d="M3023,594 H3602 M3023,645 H3602 M3023,697 H3602 M3023,748 H3602 M3023,800 H3602 M3023,851 H3602 M3023,903 H3602 M3023,954 H3602"/>
 <path class="gv" d="M3139,542 V975 M3255,542 V975 M3370,542 V975 M3486,542 V975"/>
 <path class="gh" d="M3641,590 H4218 M3641,638 H4218 M3641,686 H4218 M3641,735 H4218 M3641,783 H4218 M3641,831 H4218 M3641,879 H4218 M3641,927 H4218"/>
 <path class="gv" d="M3756,542 V975 M3872,542 V975 M3987,542 V975 M4103,542 V975"/>
 <polygon points="3602,542 3641,542 3641,975 3602,746" fill="#cfe2ff"/>
 <rect x="3596" y="539" width="13" height="6" fill="#d0641a"/>
 <rect x="3596" y="729" width="13" height="6" fill="#d0641a"/>
 <path d="M3606,561 h8 v-4 l7,7 l-7,7 v-4 h-8z" fill="#555"/>
 <path d="M3610,790 v10 h-4 l7,8 l7,-8 h-4 v-10z" fill="#555"/>
 <line x1="3023" y1="542" x2="3602" y2="542" stroke="#888" stroke-width="4"/>
 <line x1="3023" y1="975" x2="3602" y2="975" stroke="#888" stroke-width="4"/>
 <line x1="3023" y1="542" x2="3023" y2="975" stroke="#333" stroke-width="1.5"/>
 <line x1="3602" y1="542" x2="3602" y2="975" stroke="#333" stroke-width="1.5"/>
 <line x1="3641" y1="542" x2="4218" y2="542" stroke="#888" stroke-width="4"/>
 <line x1="3641" y1="975" x2="4218" y2="975" stroke="#888" stroke-width="4"/>
 <line x1="3641" y1="542" x2="3641" y2="975" stroke="#333" stroke-width="1.5"/>
 <line x1="4218" y1="542" x2="4218" y2="975" stroke="#333" stroke-width="1.5"/>
 <!-- left lines -->
 <polyline class="ln" stroke="#008000" stroke-width="4" stroke-dasharray="3 5" points="3023,949 3081,903 3139,867 3197,851 3255,839 3313,831 3370,825 3428,820 3486,818 3544,815 3602,814"/>
 <polyline fill="none" stroke="none" marker-start="url(#mTriG)" marker-mid="url(#mTriG)" marker-end="url(#mTriG)" points="3023,949 3139,867 3255,839 3370,825 3486,818 3602,814"/>
 <polyline class="ln" stroke="#ff0000" stroke-width="4" stroke-dasharray="3 5" points="3023,805 3081,717 3139,686 3197,666 3255,653 3313,645 3370,639 3428,635 3486,632 3544,627 3602,621"/>
 <polyline fill="none" stroke="none" marker-start="url(#mTriR)" marker-mid="url(#mTriR)" marker-end="url(#mTriR)" points="3023,805 3139,686 3255,653 3370,639 3486,632 3602,621"/>
 <polyline class="ln" stroke="#0000ff" stroke-width="4" stroke-dasharray="14 7" points="3023,779 3081,686 3139,655 3197,648 3255,639 3313,637 3370,634 3428,628 3486,624 3544,622 3602,619"/>
 <polyline fill="none" stroke="none" marker-start="url(#mPlusB)" marker-mid="url(#mPlusB)" marker-end="url(#mPlusB)" points="3023,779 3139,655 3255,639 3370,634 3486,624 3602,619"/>
 <polyline class="ln" stroke="#ffd700" stroke-width="5" points="3023,647 3081,612 3139,594 3197,583 3255,577 3313,574 3370,571 3428,568 3486,566 3544,565 3602,563"/>
 <polyline fill="none" stroke="none" marker-start="url(#mGold)" marker-mid="url(#mGold)" marker-end="url(#mGold)" points="3023,647 3139,594 3255,577 3370,571 3486,566 3602,563"/>
 <!-- right lines -->
 <polyline class="ln" stroke="#fa8072" stroke-width="4" points="3641,903 3699,802 3756,739 3814,708 3872,686 3930,672 3987,662 4045,655 4103,648 4160,643 4218,638"/>
 <polyline fill="none" stroke="none" marker-start="url(#mSal)" marker-mid="url(#mSal)" marker-end="url(#mSal)" points="3641,903 3756,739 3872,686 3987,662 4103,648 4218,638"/>
 <polyline class="ln" stroke="#008080" stroke-width="4" points="3641,932 3699,787 3756,727 3814,698 3872,677 3930,657 3987,643 4045,633 4103,626 4160,619 4218,614"/>
 <polyline fill="none" stroke="none" marker-start="url(#mTeal)" marker-mid="url(#mTeal)" marker-end="url(#mTeal)" points="3641,932 3756,727 3872,677 3987,643 4103,626 4218,614"/>
 <polyline class="ln" stroke="#ffa500" stroke-width="4" points="3641,855 3699,742 3756,689 3814,667 3872,645 3930,633 3987,626 4045,617 4103,609 4160,607 4218,605"/>
 <polyline fill="none" stroke="none" marker-start="url(#mOr)" marker-mid="url(#mOr)" marker-end="url(#mOr)" points="3641,855 3756,689 3872,645 3987,626 4103,609 4218,605"/>
 <polyline class="ln" stroke="#87ceeb" stroke-width="4" points="3641,819 3699,708 3756,670 3814,643 3872,631 3930,624 3987,619 4045,607 4103,605 4160,602 4218,602"/>
 <polyline fill="none" stroke="none" marker-start="url(#mSky)" marker-mid="url(#mSky)" marker-end="url(#mSky)" points="3641,819 3756,670 3872,631 3987,619 4103,605 4218,602"/>
 <polyline class="ln" stroke="#ffd700" stroke-width="4" points="3641,790 3699,708 3756,662 3814,638 3872,626 3930,617 3987,609 4045,602 4103,597 4160,597 4218,590"/>
 <polyline fill="none" stroke="none" marker-start="url(#mGold)" marker-mid="url(#mGold)" marker-end="url(#mGold)" points="3641,790 3756,662 3872,626 3987,609 4103,597 4218,590"/>
 <!-- ticks -->
 <g class="tk" text-anchor="end"><text x="3017" y="547">100</text><text x="3017" y="599">95</text><text x="3017" y="650">90</text><text x="3017" y="702">85</text><text x="3017" y="753">80</text><text x="3017" y="805">75</text><text x="3017" y="856">70</text><text x="3017" y="908">65</text><text x="3017" y="959">60</text>
  <text x="3638" y="547">100</text><text x="3638" y="595">98</text><text x="3638" y="643">96</text><text x="3638" y="691">94</text><text x="3638" y="740">92</text><text x="3638" y="788">90</text><text x="3638" y="836">88</text><text x="3638" y="884">86</text><text x="3638" y="932">84</text><text x="3638" y="980">82</text></g>
 <g class="tk" text-anchor="middle"><text x="3023" y="996">0</text><text x="3139" y="996">2</text><text x="3255" y="996">4</text><text x="3370" y="996">6</text><text x="3486" y="996">8</text><text x="3602" y="996">10</text>
  <text x="3641" y="996">0</text><text x="3756" y="996">2</text><text x="3872" y="996">4</text><text x="3987" y="996">6</text><text x="4103" y="996">8</text><text x="4218" y="996">10</text></g>
 <text x="3313" y="1016" class="xl" text-anchor="middle">Dialog Length</text>
 <text x="3929" y="1016" class="xl" text-anchor="middle">Dialog Length</text>
 <text x="2986" y="760" class="xl" text-anchor="middle" transform="rotate(-90 2986 760)">Hits@10 (in %)</text>
 <!-- legends -->
 <rect x="3307" y="850" width="288" height="117" rx="4" fill="#fff" stroke="#ccc" stroke-width="1.5"/>
 <line x1="3313" y1="863" x2="3343" y2="863" stroke="#ffd700" stroke-width="4"/><circle cx="3328" cy="863" r="7" fill="#ffd700"/>
 <text x="3356" y="868" class="lg">Synthetic Image Feedback (Ours)</text>
 <line x1="3313" y1="886" x2="3343" y2="886" stroke="#0000ff" stroke-width="4" stroke-dasharray="8 4"/><path d="M3325,878 h6 v5 h5 v6 h-5 v5 h-6 v-5 h-5 v-6 h5z" fill="#0000ff"/>
 <text x="3356" y="891" class="lg">Prediction Feedback</text>
 <text x="3313" y="913" class="lg" font-style="italic" font-weight="bold">Verbal Feedback:</text>
 <line x1="3313" y1="930" x2="3343" y2="930" stroke="#ff0000" stroke-width="3" stroke-dasharray="3 4"/><path d="M3328,922 l7,13 h-14z" fill="#ff0000"/>
 <text x="3356" y="935" class="lg">Gemma3-12b</text>
 <line x1="3313" y1="953" x2="3343" y2="953" stroke="#008000" stroke-width="3" stroke-dasharray="3 4"/><path d="M3328,945 l7,13 h-14z" fill="#008000"/>
 <text x="3356" y="958" class="lg">ChatIR</text>
 <rect x="4094" y="850" width="117" height="117" rx="4" fill="#fff" stroke="#ccc" stroke-width="1.5"/>
 <line x1="4100" y1="863" x2="4130" y2="863" stroke="#ffd700" stroke-width="4"/><circle cx="4115" cy="863" r="7" fill="#ffd700"/><text x="4141" y="868" class="lg">Infinity</text>
 <line x1="4100" y1="886" x2="4130" y2="886" stroke="#87ceeb" stroke-width="4"/><circle cx="4115" cy="886" r="7" fill="#87ceeb"/><text x="4141" y="891" class="lg">Lumina</text>
 <line x1="4100" y1="908" x2="4130" y2="908" stroke="#ffa500" stroke-width="4"/><circle cx="4115" cy="908" r="7" fill="#ffa500"/><text x="4141" y="913" class="lg">SD3.5</text>
 <line x1="4100" y1="930" x2="4130" y2="930" stroke="#008080" stroke-width="4"/><circle cx="4115" cy="930" r="7" fill="#008080"/><text x="4141" y="935" class="lg">Flux</text>
 <line x1="4100" y1="953" x2="4130" y2="953" stroke="#fa8072" stroke-width="4"/><circle cx="4115" cy="953" r="7" fill="#fa8072"/><text x="4141" y="958" class="lg">HiDream</text>
 <circle cx="3660" cy="953" r="13" fill="#fff" stroke="#111" stroke-width="2.5"/><path d="M3653,953 h14 M3660,946 v14" stroke="#111" stroke-width="2.5"/><line x1="3669" y1="963" x2="3678" y2="973" stroke="#111" stroke-width="3"/>
 <text x="3688" y="965" font-size="21" fill="#111"><tspan font-weight="bold">Magnified Y-axis</tspan> (82-100)</text>
</g>
<text x="2950" y="1065" font-size="35" fill="#111">(a) MSCOCO: GenIR Leads; Robust Across Generators</text>

<!-- ===== RESULTS (b) ===== -->
<g>
 <text x="3176" y="1140" class="ct" text-anchor="middle">FFHQ</text>
 <text x="3616" y="1140" class="ct" text-anchor="middle">Flicker 30k</text>
 <text x="4056" y="1140" class="ct" text-anchor="middle">ClothingADC</text>
 <path class="gh" d="M2981,1172 H3372 M2981,1223 H3372 M2981,1275 H3372 M2981,1326 H3372 M2981,1377 H3372 M2981,1429 H3372"/>
 <path class="gv" d="M3059,1146 V1480 M3137,1146 V1480 M3216,1146 V1480 M3294,1146 V1480"/>
 <path class="gh" d="M3421,1188 H3811 M3421,1230 H3811 M3421,1271 H3811 M3421,1313 H3811 M3421,1355 H3811 M3421,1397 H3811 M3421,1438 H3811"/>
 <path class="gv" d="M3499,1146 V1480 M3577,1146 V1480 M3655,1146 V1480 M3733,1146 V1480"/>
 <path class="gh" d="M3861,1197 H4251 M3861,1249 H4251 M3861,1300 H4251 M3861,1352 H4251 M3861,1403 H4251 M3861,1454 H4251"/>
 <path class="gv" d="M3939,1146 V1480 M4017,1146 V1480 M4095,1146 V1480 M4173,1146 V1480"/>
 <g stroke="#555" stroke-width="1.5" fill="none"><rect x="2981" y="1146" width="391" height="334"/><rect x="3421" y="1146" width="390" height="334"/><rect x="3861" y="1146" width="390" height="334"/></g>
 <g stroke="#777" stroke-width="3.5"><line x1="2981" y1="1146" x2="3372" y2="1146"/><line x1="2981" y1="1480" x2="3372" y2="1480"/><line x1="3421" y1="1146" x2="3811" y2="1146"/><line x1="3421" y1="1480" x2="3811" y2="1480"/><line x1="3861" y1="1146" x2="4251" y2="1146"/><line x1="3861" y1="1480" x2="4251" y2="1480"/></g>
 <!-- FFHQ -->
 <polyline class="ln" stroke="#ff0000" stroke-width="3.5" stroke-dasharray="3 5" marker-start="url(#mTriR)" marker-mid="url(#mTriR)" marker-end="url(#mTriR)" points="2981,1457 3020,1393 3059,1365 3098,1336 3137,1321 3177,1303 3216,1293 3255,1283 3294,1272 3333,1265 3372,1261"/>
 <polyline class="ln" stroke="#0000ff" stroke-width="4" stroke-dasharray="12 6" marker-start="url(#mSqB)" marker-mid="url(#mSqB)" marker-end="url(#mSqB)" points="2981,1424 3020,1377 3059,1371 3098,1367 3137,1363 3177,1362 3216,1359 3255,1357 3294,1356 3333,1348 3372,1348"/>
 <polyline class="ln" stroke="#ffa500" stroke-width="4" marker-start="url(#mOr)" marker-mid="url(#mOr)" marker-end="url(#mOr)" points="2981,1244 3020,1220 3059,1205 3098,1195 3137,1187 3177,1182 3216,1179 3255,1174 3294,1172 3333,1170 3372,1170"/>
 <!-- Flicker -->
 <polyline class="ln" stroke="#008000" stroke-width="3.5" stroke-dasharray="3 5" marker-start="url(#mTriG)" marker-mid="url(#mTriG)" marker-end="url(#mTriG)" points="3421,1346 3460,1311 3499,1296 3538,1290 3577,1286 3616,1282 3655,1280 3694,1280 3733,1279 3772,1277 3811,1275"/>
 <polyline class="ln" stroke="#ff0000" stroke-width="3.5" stroke-dasharray="3 5" marker-start="url(#mTriR)" marker-mid="url(#mTriR)" marker-end="url(#mTriR)" points="3421,1417 3460,1317 3499,1288 3538,1271 3577,1256 3616,1238 3655,1233 3694,1230 3733,1228 3772,1225 3811,1219"/>
 <polyline class="ln" stroke="#0000ff" stroke-width="4" stroke-dasharray="12 6" marker-start="url(#mSqB)" marker-mid="url(#mSqB)" marker-end="url(#mSqB)" points="3421,1330 3460,1282 3499,1263 3538,1261 3577,1253 3616,1245 3655,1241 3694,1239 3733,1239 3772,1239 3811,1233"/>
 <polyline class="ln" stroke="#ffa500" stroke-width="4" marker-start="url(#mOr)" marker-mid="url(#mOr)" marker-end="url(#mOr)" points="3421,1200 3460,1184 3499,1174 3538,1170 3577,1167 3616,1163 3655,1159 3694,1156 3733,1154 3772,1154 3811,1154"/>
 <!-- Clothing -->
 <polyline class="ln" stroke="#ff0000" stroke-width="3.5" stroke-dasharray="3 5" marker-start="url(#mTriR)" marker-mid="url(#mTriR)" marker-end="url(#mTriR)" points="3861,1457 3900,1404 3939,1377 3978,1362 4017,1345 4056,1333 4095,1321 4134,1315 4173,1311 4212,1304 4251,1298"/>
 <polyline class="ln" stroke="#0000ff" stroke-width="4" stroke-dasharray="12 6" marker-start="url(#mSqB)" marker-mid="url(#mSqB)" marker-end="url(#mSqB)" points="3861,1436 3900,1406 3939,1393 3978,1388 4017,1380 4056,1375 4095,1370 4134,1368 4173,1366 4212,1363 4251,1362"/>
 <polyline class="ln" stroke="#ffa500" stroke-width="4" marker-start="url(#mOr)" marker-mid="url(#mOr)" marker-end="url(#mOr)" points="3861,1277 3900,1246 3939,1226 3978,1213 4017,1207 4056,1201 4095,1192 4134,1186 4173,1182 4212,1179 4251,1175"/>
 <g class="tk" text-anchor="end">
  <text x="2976" y="1177">70</text><text x="2976" y="1228">60</text><text x="2976" y="1280">50</text><text x="2976" y="1331">40</text><text x="2976" y="1382">30</text><text x="2976" y="1434">20</text><text x="2976" y="1485">10</text>
  <text x="3416" y="1151">100</text><text x="3416" y="1193">95</text><text x="3416" y="1235">90</text><text x="3416" y="1276">85</text><text x="3416" y="1318">80</text><text x="3416" y="1360">75</text><text x="3416" y="1402">70</text><text x="3416" y="1443">65</text><text x="3416" y="1485">60</text>
  <text x="3856" y="1151">80</text><text x="3856" y="1202">70</text><text x="3856" y="1254">60</text><text x="3856" y="1305">50</text><text x="3856" y="1357">40</text><text x="3856" y="1408">30</text><text x="3856" y="1459">20</text>
 </g>
 <g class="tk" text-anchor="middle">
  <text x="2981" y="1499">0</text><text x="3059" y="1499">2</text><text x="3137" y="1499">4</text><text x="3216" y="1499">6</text><text x="3294" y="1499">8</text><text x="3372" y="1499">10</text>
  <text x="3421" y="1499">0</text><text x="3499" y="1499">2</text><text x="3577" y="1499">4</text><text x="3655" y="1499">6</text><text x="3733" y="1499">8</text><text x="3811" y="1499">10</text>
  <text x="3861" y="1499">0</text><text x="3939" y="1499">2</text><text x="4017" y="1499">4</text><text x="4095" y="1499">6</text><text x="4173" y="1499">8</text><text x="4251" y="1499">10</text>
 </g>
 <text x="3176" y="1518" class="xl" text-anchor="middle">Dialog Length</text>
 <text x="3616" y="1518" class="xl" text-anchor="middle">Dialog Length</text>
 <text x="4056" y="1518" class="xl" text-anchor="middle">Dialog Length</text>
 <text x="2949" y="1313" class="xl" text-anchor="middle" transform="rotate(-90 2949 1313)">Hits@10 (in %)</text>
 <rect x="3313" y="1529" width="573" height="47" rx="4" fill="#fff" stroke="#ccc" stroke-width="1.5"/>
 <line x1="3318" y1="1541" x2="3348" y2="1541" stroke="#ffa500" stroke-width="4"/><circle cx="3333" cy="1541" r="7" fill="#ffa500"/>
 <text x="3360" y="1546" class="lg" font-size="14">Gemma3-4b-with-Synthetic-Image-Feedback</text>
 <line x1="3318" y1="1563" x2="3348" y2="1563" stroke="#0000ff" stroke-width="4" stroke-dasharray="8 4"/><rect x="3327" y="1557" width="12" height="12" fill="#0000ff"/>
 <text x="3360" y="1568" class="lg" font-size="14">Gemma3-4b-with-Prediction-Feedback</text>
 <line x1="3688" y1="1541" x2="3716" y2="1541" stroke="#ff0000" stroke-width="3" stroke-dasharray="3 4"/><path d="M3702,1533 l7,13 h-14z" fill="#ff0000"/>
 <text x="3729" y="1546" class="lg" font-size="14">Gemma3-4b-Text-Only</text>
 <line x1="3688" y1="1563" x2="3716" y2="1563" stroke="#008000" stroke-width="3" stroke-dasharray="3 4"/><path d="M3702,1555 l7,13 h-14z" fill="#008000"/>
 <text x="3729" y="1568" class="lg" font-size="14">ChatGPT-Text-Only</text>
</g>
<text x="2950" y="1634" font-size="35" fill="#111">(b) Cross-Domain Wins (FFHQ, Flickr30k, Clothing-ADC 1M+)</text>

<!-- ===== RESULTS (c) ===== -->
<g>
 <text x="3170" y="1700" class="ct" text-anchor="middle">Synthetic Image Feedback</text>
 <text x="3610" y="1700" class="ct" text-anchor="middle">Prediction Feedback</text>
 <text x="4048" y="1700" class="ct" text-anchor="middle">Verbal Feedback</text>
 <path class="gh" d="M2990,1775 H3399 M2990,1828 H3399 M2990,1881 H3399 M3414,1775 H3825 M3414,1828 H3825 M3414,1881 H3825 M3839,1775 H4249 M3839,1828 H4249 M3839,1881 H4249"/>
 <path class="gh" d="M2990,2028 H3399 M2990,2080 H3399 M2990,2133 H3399 M3414,2028 H3825 M3414,2080 H3825 M3414,2133 H3825 M3839,2028 H4249 M3839,2080 H4249 M3839,2133 H4249"/>
 <path class="gv" d="M3072,1723 V1933 M3154,1723 V1933 M3235,1723 V1933 M3317,1723 V1933 M3496,1723 V1933 M3578,1723 V1933 M3661,1723 V1933 M3743,1723 V1933 M3921,1723 V1933 M4003,1723 V1933 M4085,1723 V1933 M4167,1723 V1933"/>
 <path class="gv" d="M3072,1976 V2185 M3154,1976 V2185 M3235,1976 V2185 M3317,1976 V2185 M3496,1976 V2185 M3578,1976 V2185 M3661,1976 V2185 M3743,1976 V2185 M3921,1976 V2185 M4003,1976 V2185 M4085,1976 V2185 M4167,1976 V2185"/>
 <g stroke="#333" stroke-width="1.5" fill="none">
  <rect x="2990" y="1723" width="409" height="210"/><rect x="3414" y="1723" width="411" height="210"/><rect x="3839" y="1723" width="410" height="210"/>
  <rect x="2990" y="1976" width="409" height="209"/><rect x="3414" y="1976" width="411" height="209"/><rect x="3839" y="1976" width="410" height="209"/>
 </g>
 <g stroke="#333" stroke-width="3.5">
  <line x1="2990" y1="1723" x2="3399" y2="1723"/><line x1="2990" y1="1933" x2="3399" y2="1933"/><line x1="3414" y1="1723" x2="3825" y2="1723"/><line x1="3414" y1="1933" x2="3825" y2="1933"/><line x1="3839" y1="1723" x2="4249" y2="1723"/><line x1="3839" y1="1933" x2="4249" y2="1933"/>
  <line x1="2990" y1="1976" x2="3399" y2="1976"/><line x1="2990" y1="2185" x2="3399" y2="2185"/><line x1="3414" y1="1976" x2="3825" y2="1976"/><line x1="3414" y1="2185" x2="3825" y2="2185"/><line x1="3839" y1="1976" x2="4249" y2="1976"/><line x1="3839" y1="2185" x2="4249" y2="2185"/>
 </g>
 <!-- top row -->
 <polyline class="ln" stroke="#ffa500" stroke-width="5" marker-start="url(#mOr)" marker-mid="url(#mOr)" marker-end="url(#mOr)" points="2990,1790 3031,1775 3072,1766 3113,1758 3154,1753 3195,1749 3235,1745 3276,1743 3317,1742 3358,1740 3399,1739"/>
 <polyline class="ln" stroke="#ffd700" stroke-width="5" marker-start="url(#mGold)" marker-mid="url(#mGold)" marker-end="url(#mGold)" points="2990,1781 3031,1762 3072,1753 3113,1746 3154,1743 3195,1741 3235,1739 3276,1737 3317,1736 3358,1736 3399,1735"/>
 <polyline class="ln" stroke="#87ceeb" stroke-width="5" stroke-dasharray="14 7" marker-start="url(#mPlusS)" marker-mid="url(#mPlusS)" marker-end="url(#mPlusS)" points="3414,1869 3455,1835 3496,1818 3537,1813 3578,1807 3620,1803 3661,1800 3702,1798 3743,1796 3784,1795 3825,1794"/>
 <polyline class="ln" stroke="#0000ff" stroke-width="5" stroke-dasharray="14 7" marker-start="url(#mPlusB)" marker-mid="url(#mPlusB)" marker-end="url(#mPlusB)" points="3414,1858 3455,1807 3496,1789 3537,1786 3578,1780 3620,1779 3661,1776 3702,1773 3743,1772 3784,1770 3825,1769"/>
 <polyline class="ln" stroke="#fa8072" stroke-width="4.5" stroke-dasharray="3 5" marker-start="url(#mTriS)" marker-mid="url(#mTriS)" marker-end="url(#mTriS)" points="3839,1907 3880,1841 3921,1822 3962,1810 4003,1803 4044,1797 4085,1794 4126,1790 4167,1789 4208,1786 4249,1784"/>
 <polyline class="ln" stroke="#ff0000" stroke-width="4.5" stroke-dasharray="3 5" marker-start="url(#mTriR)" marker-mid="url(#mTriR)" marker-end="url(#mTriR)" points="3839,1877 3880,1828 3921,1808 3962,1795 4003,1788 4044,1784 4085,1781 4126,1777 4167,1775 4208,1772 4249,1769"/>
 <!-- bottom row -->
 <polyline class="ln" stroke="#ffa500" stroke-width="5" marker-start="url(#mOr)" marker-mid="url(#mOr)" marker-end="url(#mOr)" points="2990,2068 3031,2058 3072,2052 3113,2048 3154,2045 3195,2043 3235,2040 3276,2039 3317,2038 3358,2037 3399,2037"/>
 <polyline class="ln" stroke="#ffd700" stroke-width="5" marker-start="url(#mGold)" marker-mid="url(#mGold)" marker-end="url(#mGold)" points="2990,2054 3031,2040 3072,2033 3113,2031 3154,2028 3195,2025 3235,2023 3276,2021 3317,2020 3358,2019 3399,2018"/>
 <polyline class="ln" stroke="#87ceeb" stroke-width="5" stroke-dasharray="14 7" marker-start="url(#mPlusS)" marker-mid="url(#mPlusS)" marker-end="url(#mPlusS)" points="3414,2141 3455,2122 3496,2120 3537,2118 3578,2117 3620,2116 3661,2115 3702,2114 3743,2112 3784,2110 3825,2110"/>
 <polyline class="ln" stroke="#0000ff" stroke-width="5" stroke-dasharray="14 7" marker-start="url(#mPlusB)" marker-mid="url(#mPlusB)" marker-end="url(#mPlusB)" points="3414,2133 3455,2109 3496,2095 3537,2095 3578,2095 3620,2095 3661,2095 3702,2091 3743,2086 3784,2085 3825,2085"/>
 <polyline class="ln" stroke="#fa8072" stroke-width="4.5" stroke-dasharray="3 5" marker-start="url(#mTriS)" marker-mid="url(#mTriS)" marker-end="url(#mTriS)" points="3839,2156 3880,2129 3921,2118 3962,2107 4003,2101 4044,2095 4085,2086 4126,2084 4167,2080 4208,2077 4249,2074"/>
 <polyline class="ln" stroke="#ff0000" stroke-width="4.5" stroke-dasharray="3 5" marker-start="url(#mTriR)" marker-mid="url(#mTriR)" marker-end="url(#mTriR)" points="3839,2139 3880,2118 3921,2109 3962,2105 4003,2103 4044,2099 4085,2095 4126,2089 4167,2085 4208,2083 4249,2080"/>
 <!-- ticks -->
 <g class="tk" text-anchor="end">
  <text x="2985" y="1728">100</text><text x="2985" y="1780">91</text><text x="2985" y="1833">82</text><text x="2985" y="1886">73</text><text x="2985" y="1938">65</text>
  <text x="2985" y="1981">100</text><text x="2985" y="2033">75</text><text x="2985" y="2085">50</text><text x="2985" y="2138">25</text><text x="2985" y="2190">0</text>
 </g>
 <g class="tk" text-anchor="middle">
  <text x="2990" y="1956">0</text><text x="3072" y="1956">2</text><text x="3154" y="1956">4</text><text x="3235" y="1956">6</text><text x="3317" y="1956">8</text><text x="3399" y="1956">10</text>
  <text x="3414" y="1956">0</text><text x="3496" y="1956">2</text><text x="3578" y="1956">4</text><text x="3661" y="1956">6</text><text x="3743" y="1956">8</text><text x="3825" y="1956">10</text>
  <text x="3839" y="1956">0</text><text x="3921" y="1956">2</text><text x="4003" y="1956">4</text><text x="4085" y="1956">6</text><text x="4167" y="1956">8</text><text x="4249" y="1956">10</text>
  <text x="2990" y="2207">0</text><text x="3072" y="2207">2</text><text x="3154" y="2207">4</text><text x="3235" y="2207">6</text><text x="3317" y="2207">8</text><text x="3399" y="2207">10</text>
  <text x="3414" y="2207">0</text><text x="3496" y="2207">2</text><text x="3578" y="2207">4</text><text x="3661" y="2207">6</text><text x="3743" y="2207">8</text><text x="3825" y="2207">10</text>
  <text x="3839" y="2207">0</text><text x="3921" y="2207">2</text><text x="4003" y="2207">4</text><text x="4085" y="2207">6</text><text x="4167" y="2207">8</text><text x="4249" y="2207">10</text>
 </g>
 <text x="3195" y="2226" class="xl" text-anchor="middle">Dialog Length</text>
 <text x="3620" y="2226" class="xl" text-anchor="middle">Dialog Length</text>
 <text x="4044" y="2226" class="xl" text-anchor="middle">Dialog Length</text>
 <text x="2952" y="1828" class="xl" text-anchor="middle" transform="rotate(-90 2952 1828)">MSCOCO Hits@10 (in %)</text>
 <text x="2952" y="2080" class="xl" text-anchor="middle" transform="rotate(-90 2952 2080)">FFHQ Hits@10 (in %)</text>
 <!-- legends (c) -->
 <g class="lg">
  <line x1="3267" y1="1894" x2="3295" y2="1894" stroke="#ffd700" stroke-width="4"/><circle cx="3281" cy="1894" r="7" fill="#ffd700"/><text x="3305" y="1899">Gemma3-12b</text>
  <line x1="3267" y1="1914" x2="3295" y2="1914" stroke="#ffa500" stroke-width="4"/><circle cx="3281" cy="1914" r="7" fill="#ffa500"/><text x="3305" y="1919">Gemma3-4b</text>
  <line x1="3692" y1="1894" x2="3720" y2="1894" stroke="#0000ff" stroke-width="4"/><path d="M3703,1886 h6 v5 h5 v6 h-5 v5 h-6 v-5 h-5 v-6 h5z" fill="#0000ff"/><text x="3729" y="1899">Gemma3-12b</text>
  <line x1="3692" y1="1914" x2="3720" y2="1914" stroke="#87ceeb" stroke-width="4"/><path d="M3703,1906 h6 v5 h5 v6 h-5 v5 h-6 v-5 h-5 v-6 h5z" fill="#87ceeb"/><text x="3729" y="1919">Gemma3-4b</text>
  <line x1="4117" y1="1894" x2="4145" y2="1894" stroke="#ff0000" stroke-width="3" stroke-dasharray="3 3"/><path d="M4131,1886 l7,13 h-14z" fill="#ff0000"/><text x="4154" y="1899">Gemma3-12b</text>
  <line x1="4117" y1="1914" x2="4145" y2="1914" stroke="#fa8072" stroke-width="3" stroke-dasharray="3 3"/><path d="M4131,1906 l7,13 h-14z" fill="#fa8072"/><text x="4154" y="1919">Gemma3-4b</text>
  <line x1="3267" y1="2147" x2="3295" y2="2147" stroke="#ffd700" stroke-width="4"/><circle cx="3281" cy="2147" r="7" fill="#ffd700"/><text x="3305" y="2152">Gemma3-12b</text>
  <line x1="3267" y1="2166" x2="3295" y2="2166" stroke="#ffa500" stroke-width="4"/><circle cx="3281" cy="2166" r="7" fill="#ffa500"/><text x="3305" y="2171">Gemma3-4b</text>
  <line x1="3692" y1="2147" x2="3720" y2="2147" stroke="#0000ff" stroke-width="4"/><path d="M3703,2139 h6 v5 h5 v6 h-5 v5 h-6 v-5 h-5 v-6 h5z" fill="#0000ff"/><text x="3729" y="2152">Gemma3-12b</text>
  <line x1="3692" y1="2166" x2="3720" y2="2166" stroke="#87ceeb" stroke-width="4"/><path d="M3703,2158 h6 v5 h5 v6 h-5 v5 h-6 v-5 h-5 v-6 h5z" fill="#87ceeb"/><text x="3729" y="2171">Gemma3-4b</text>
  <line x1="4117" y1="2147" x2="4145" y2="2147" stroke="#ff0000" stroke-width="3" stroke-dasharray="3 3"/><path d="M4131,2139 l7,13 h-14z" fill="#ff0000"/><text x="4154" y="2152">Gemma3-12b</text>
  <line x1="4117" y1="2166" x2="4145" y2="2166" stroke="#fa8072" stroke-width="3" stroke-dasharray="3 3"/><path d="M4131,2158 l7,13 h-14z" fill="#fa8072"/><text x="4154" y="2171">Gemma3-4b</text>
 </g>
</g>
<text x="2950" y="2299" font-size="35" fill="#111">(c) GenIR-4B beats 12B baselines on MSCOCO &amp; FFHQ</text>

<!-- ===== TAKEAWAYS ===== -->
<g font-size="35" fill="#111">
 <text x="3004" y="2517">GenIR provides <tspan font-weight="bold" fill="#0d4274">explicit visual feedback</tspan> each round, improving multi-round</text>
 <text x="3004" y="2565">retrieval in MIR.</text>
 <text x="3004" y="2613">The framework is <tspan font-weight="bold" fill="#0d4274">model-agnostic</tspan> and <tspan font-weight="bold" fill="#0d4274">plug-and-play</tspan> across text-to-image</text>
 <text x="3004" y="2661">generators and retrieval models.</text>
 <text x="3004" y="2710">The curated <tspan font-weight="bold" fill="#0d4274">multi-round MIR dataset</tspan> and experiments show <tspan font-weight="bold" fill="#0d4274">consistent</tspan></text>
 <text x="3004" y="2758"><tspan font-weight="bold" fill="#0d4274">gains</tspan> over baselines and better standard text-to-image retrieval.</text>
</g>
<g fill="#0d4274"><circle cx="2968" cy="2505" r="6"/><circle cx="2968" cy="2601" r="6"/><circle cx="2968" cy="2698" r="6"/></g>
</svg>
</body></html>
